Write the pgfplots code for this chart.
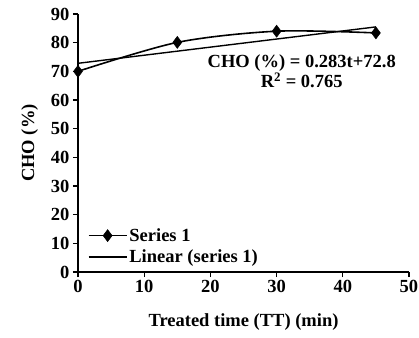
\documentclass[border=0pt]{standalone}
\usepackage{pgfplots}
\pgfplotsset{compat=1.18}
\usepackage{fontspec}
\setmainfont{Liberation Serif}
\newcommand{\ff}{\fontsize{18.5bp}{20bp}\selectfont\bfseries}
\pgfplotsset{
  legA/.style={legend image code/.code={\draw[mark repeat=2,mark phase=2,##1] plot coordinates {(0bp,0bp) (19bp,0bp) (38bp,0bp)};}},
  legB/.style={legend image code/.code={\draw[##1] (0bp,0bp) -- (38bp,0bp);}},
}
\begin{document}
\begin{tikzpicture}
\path[use as bounding box] (-78bp,-66bp) rectangle (341bp,272bp);
\begin{axis}[
  at={(0,0)}, anchor=south west,
  scale only axis, width=331bp, height=258bp,
  xmin=0, xmax=50, ymin=0, ymax=90,
  xtick={0,10,...,50}, ytick={0,10,...,90},
  axis lines*=left,
  axis line style={line width=1.6pt, -},
  tick style={line width=1.4pt, black},
  tick align=outside, major tick length=5bp,
  font=\ff,
  /pgf/number format/assume math mode=true,
  ticklabel style={font=\ff},
  xlabel={Treated time (TT) (min)},
  ylabel={CHO (\%)},
  xlabel style={yshift=-14bp},
  ylabel style={yshift=6bp},
  legend style={at={(0.02,0.185)}, anchor=north west, draw=none, fill=none,
    font=\ff, row sep=3bp},
  legend cell align=left,
  clip=false,
]
\addplot[black, line width=1.6pt, smooth, tension=0.5, mark=diamond*, mark size=6bp,
  mark options={solid, fill=black, line width=0.5pt}, legA]
  coordinates {(0,70) (15,80.1) (30,84) (45,83.4)};
\addlegendentry{Series 1}
\addplot[black, line width=1.4pt, legB] coordinates {(0,72.8) (45,85.5)};
\addlegendentry{Linear (series 1)}
\node[align=center, font=\ff, inner sep=0pt] at (axis cs:33.8,70)
  {CHO (\%) = 0.283t+72.8\\R$^{\mathbf{2}}$ = 0.765};
\end{axis}
\end{tikzpicture}
\end{document}
